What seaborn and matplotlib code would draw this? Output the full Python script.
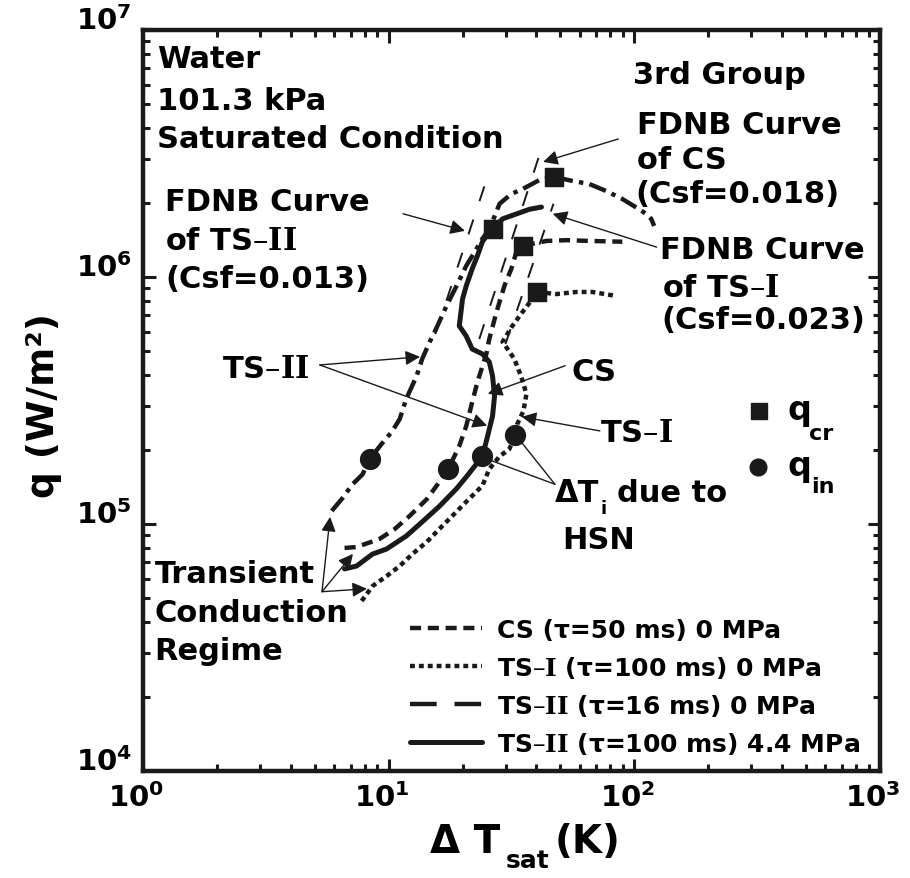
# -*- coding: utf-8 -*-
# Boiling curves, water at 101.3 kPa, 3rd group (log-log)

# %% Import Libraries

import math
import matplotlib
matplotlib.use("Agg")
import matplotlib.pyplot as plt
import matplotlib.transforms as mtransforms
from matplotlib.lines import Line2D
from matplotlib.ticker import LogLocator, FuncFormatter, NullFormatter
import seaborn as sns

# %% Data (dT_sat in K, q in W/m2)

cs_dt = [6.62, 7.41, 9.19, 10.6, 12.2, 14.3, 16.1, 17.5, 19.4, 20.7, 21.9, 23.0,
         25.0, 25.7, 27.5, 29.6, 31.6, 33.1, 35.4, 43.9, 52.9, 65.6, 89.4]
cs_q = [8.0e4, 8.07e4, 8.7e4, 9.55e4, 1.08e5, 1.26e5, 1.48e5, 1.67e5, 2.07e5,
        2.49e5, 3.12e5, 3.76e5, 4.88e5, 5.61e5, 7.22e5, 9.2e5, 1.08e6, 1.26e6,
        1.34e6, 1.40e6, 1.41e6, 1.40e6, 1.39e6]

ts1_dt = [7.77, 8.61, 9.81, 11.1, 12.5, 14.3, 16.1, 18.2, 20.7, 24.1, 25.7, 28.3,
          31.0, 32.8, 33.4, 35.4, 36.4, 34.7, 32.5, 30.5, 29.1, 31.9, 35.1, 38.5,
          40.3, 48.2, 58.1, 67.5, 84.5]
ts1_q = [4.88e4, 5.61e4, 6.15e4, 6.76e4, 7.56e4, 8.46e4, 9.55e4, 1.08e5, 1.23e5,
         1.43e5, 1.67e5, 1.88e5, 2.01e5, 2.29e5, 2.54e5, 2.87e5, 3.36e5, 3.94e5,
         4.66e5, 5.11e5, 5.46e5, 6.34e5, 7.22e5, 8.15e5, 8.7e5, 8.53e5, 8.7e5,
         8.7e5, 8.38e5]

ts2a_dt = [5.87, 6.44, 7.14, 7.84, 8.37, 9.37, 10.3, 11.1, 11.8, 13.0, 13.7, 14.7,
           15.4, 17.2, 18.9, 20.7, 22.8, 24.1, 25.7, 28.3, 31.6, 35.1, 41.1, 47.3,
           56.0, 65.6, 76.9, 89.4, 104.8, 111.9, 117.2, 120.5]
ts2a_q = [1.13e5, 1.26e5, 1.45e5, 1.59e5, 1.83e5, 2.11e5, 2.36e5, 2.66e5, 3.21e5,
          3.97e5, 4.66e5, 5.46e5, 5.99e5, 7.63e5, 9.2e5, 1.11e6, 1.30e6, 1.43e6,
          1.56e6, 1.98e6, 2.17e6, 2.27e6, 2.47e6, 2.54e6, 2.45e6, 2.38e6, 2.23e6,
          2.07e6, 1.88e6, 1.80e6, 1.72e6, 1.61e6]

ts2b_dt = [6.62, 7.41, 8.61, 9.81, 11.8, 13.7, 16.1, 18.9, 20.7, 24.1, 25.3, 26.5,
           27.0, 26.5, 25.7, 24.1, 21.9, 20.7, 19.4, 20.0, 20.7, 21.9, 23.0, 24.1,
           25.3, 26.5, 29.1, 33.1, 37.4, 41.9]
ts2b_q = [6.58e4, 6.76e4, 7.56e4, 7.92e4, 8.94e4, 1.02e5, 1.18e5, 1.39e5, 1.55e5,
          1.88e5, 2.27e5, 2.74e5, 3.30e5, 3.97e5, 4.53e5, 4.88e5, 5.11e5, 5.77e5,
          6.34e5, 8.15e5, 9.2e5, 1.08e6, 1.22e6, 1.39e6, 1.49e6, 1.56e6, 1.72e6,
          1.80e6, 1.88e6, 1.92e6]

# critical (square) and incipience (circle) points
qcr_dt = [47.3, 26.5, 35.4, 40.3]
qcr_q = [2.54e6, 1.56e6, 1.34e6, 8.7e5]
qin_dt = [8.37, 17.5, 24.1, 32.8]
qin_q = [1.83e5, 1.67e5, 1.88e5, 2.29e5]

# FDNB curves (end points)
fdnb_ts2_dt = [15.5, 25.5]
fdnb_ts2_q = [5.88e5, 2.61e6]
fdnb_cs_dt = [23.4, 41.5]
fdnb_cs_q = [5.61e5, 3.21e6]
fdnb_ts1_dt = [29.9, 46.9]
fdnb_ts1_q = [5.36e5, 1.98e6]

legend_labels = ["CS (τ=50 ms) 0 MPa", r"TS–$\mathbf{I}$ (τ=100 ms) 0 MPa",
                 r"TS–$\mathbf{II}$ (τ=16 ms) 0 MPa", r"TS–$\mathbf{II}$ (τ=100 ms) 4.4 MPa"]

# %% Style

sns.set_theme(style="ticks")
plt.rcParams["font.family"] = ["DejaVu Sans"]
plt.rcParams["font.weight"] = "bold"
plt.rcParams["text.color"] = "black"
plt.rcParams["axes.labelcolor"] = "black"
plt.rcParams["axes.linewidth"] = 3

fig = plt.figure(figsize=(9.1, 8.79), dpi=100)
ax = fig.add_axes([0.157, 0.1217, 0.81, 0.843])
ax.set_xscale("log")
ax.set_yscale("log")

LW = 3.2
ls_cs = (0, (2.5, 1.5))
ls_ts1 = (0, (1.1, 0.9))
ls_ts2a = (0, (4, 1.4, 1, 1.4))
ls_ts2a_leg = (0, (6, 4))

# %% Curves

sns.lineplot(x=cs_dt, y=cs_q, sort=False, estimator=None, color="k", lw=LW,
             linestyle=ls_cs, ax=ax)
sns.lineplot(x=ts1_dt, y=ts1_q, sort=False, estimator=None, color="k", lw=LW,
             linestyle=ls_ts1, ax=ax)
sns.lineplot(x=ts2a_dt, y=ts2a_q, sort=False, estimator=None, color="k", lw=LW,
             linestyle=ls_ts2a, ax=ax)
sns.lineplot(x=ts2b_dt, y=ts2b_q, sort=False, estimator=None, color="k", lw=LW + 0.4,
             ax=ax)

for fx, fy in [(fdnb_ts2_dt, fdnb_ts2_q), (fdnb_cs_dt, fdnb_cs_q), (fdnb_ts1_dt, fdnb_ts1_q)]:
    sns.lineplot(x=fx, y=fy, sort=False, estimator=None, color="k", lw=1.4,
                 linestyle=(0, (8, 10)), ax=ax)

sns.scatterplot(x=qcr_dt, y=qcr_q, marker="s", s=170, color="k", edgecolor="k",
                zorder=5, ax=ax)
sns.scatterplot(x=qin_dt, y=qin_q, marker="o", s=200, color="k", edgecolor="k",
                zorder=5, ax=ax)

# %% Axes

ax.set_xlim(1, 1000)
ax.set_ylim(1e4, 1e7)
ax.xaxis.set_major_locator(LogLocator(base=10, numticks=10))
ax.yaxis.set_major_locator(LogLocator(base=10, numticks=10))
ax.xaxis.set_minor_locator(LogLocator(base=10, subs=range(2, 10), numticks=20))
ax.yaxis.set_minor_locator(LogLocator(base=10, subs=range(2, 10), numticks=20))
fmt = FuncFormatter(lambda v, p: r"$\mathbf{10^{%d}}$" % round(math.log10(v)))
ax.xaxis.set_major_formatter(fmt)
ax.yaxis.set_major_formatter(fmt)
ax.xaxis.set_minor_formatter(NullFormatter())
ax.yaxis.set_minor_formatter(NullFormatter())
ax.tick_params(which="both", direction="in", top=True, right=True, width=2.2,
               color="k", labelsize=21, labelcolor="black")
ax.tick_params(which="major", length=9, pad=8)
ax.tick_params(which="minor", length=5)
for sp in ax.spines.values():
    sp.set_linewidth(3.2)
    sp.set_color("k")

for lab in ax.get_yticklabels():
    lab.set_transform(lab.get_transform() + mtransforms.ScaledTranslation(0, 9 / 72, fig.dpi_scale_trans))
for lab in ax.get_xticklabels():
    lab.set_transform(lab.get_transform() + mtransforms.ScaledTranslation(-5 / 72, 0, fig.dpi_scale_trans))

fig.text(0.048, 0.539, "q (W/m²)", rotation=90, ha="center", va="center", fontsize=27)
fig.text(0.472, 0.03, "Δ T", ha="left", va="baseline", fontsize=28)
fig.text(0.556, 0.012, "sat", ha="left", va="baseline", fontsize=18)
fig.text(0.610, 0.03, "(K)", ha="left", va="baseline", fontsize=28)

# %% Text and arrows

TS = 22
def txt(x, y, s, size=TS, **kw):
    t = ax.text(x, y, s, transform=ax.transAxes, ha="left", va="baseline", fontsize=size, **kw)
    t.set_math_fontfamily("dejavuserif")

txt(0.019, 0.950, "Water")
txt(0.019, 0.894, "101.3 kPa")
txt(0.019, 0.842, "Saturated Condition")
txt(0.030, 0.757, "FDNB Curve")
txt(0.030, 0.704, r"of TS–$\mathbf{II}$")
txt(0.030, 0.653, "(Csf=0.013)")
txt(0.665, 0.928, "3rd Group")
txt(0.670, 0.861, "FDNB Curve")
txt(0.670, 0.814, "of CS")
txt(0.668, 0.768, "(Csf=0.018)")
txt(0.701, 0.692, "FDNB Curve")
txt(0.704, 0.641, r"of TS–$\mathbf{I}$")
txt(0.704, 0.598, "(Csf=0.023)")
txt(0.582, 0.528, "CS")
txt(0.620, 0.445, r"TS–$\mathbf{I}$")
txt(0.107, 0.532, r"TS–$\mathbf{II}$")
txt(0.559, 0.364, "ΔT")
txt(0.621, 0.348, "i", size=13)
txt(0.643, 0.364, "due to")
txt(0.569, 0.301, "HSN")
txt(0.016, 0.255, "Transient")
txt(0.016, 0.202, "Conduction")
txt(0.016, 0.151, "Regime")

ax.plot([0.836], [0.486], marker="s", ms=12, color="k", transform=ax.transAxes)
ax.plot([0.834], [0.410], marker="o", ms=12, color="k", transform=ax.transAxes)
txt(0.875, 0.475, "q", size=24)
txt(0.904, 0.448, "cr", size=16)
txt(0.875, 0.3995, "q", size=24)
txt(0.906, 0.3765, "in", size=16)

arrows = [
    ((0.353, 0.752), (0.437, 0.729)),
    ((0.645, 0.853), (0.543, 0.822)),
    ((0.697, 0.707), (0.556, 0.752)),
    ((0.240, 0.548), (0.376, 0.559)),
    ((0.240, 0.548), (0.467, 0.466)),
    ((0.573, 0.547), (0.468, 0.509)),
    ((0.620, 0.459), (0.514, 0.478)),
    ((0.243, 0.242), (0.254, 0.343)),
    ((0.243, 0.242), (0.285, 0.293)),
    ((0.243, 0.242), (0.304, 0.246)),
]
for start, end in arrows:
    ax.annotate("", xy=end, xytext=start, xycoords="axes fraction",
                arrowprops=dict(arrowstyle="-|>", color="k", lw=1.0,
                                mutation_scale=22, shrinkA=0, shrinkB=0))
for end in [(0.507, 0.452), (0.467, 0.421)]:
    ax.annotate("", xy=end, xytext=(0.559, 0.387), xycoords="axes fraction",
                arrowprops=dict(arrowstyle="-", color="k", lw=1.0, shrinkA=0, shrinkB=0))

# %% Legend

handles = [Line2D([], [], color="k", lw=LW, linestyle=ls_cs),
           Line2D([], [], color="k", lw=LW, linestyle=ls_ts1),
           Line2D([], [], color="k", lw=LW, linestyle=ls_ts2a_leg),
           Line2D([], [], color="k", lw=LW + 0.4)]
leg = ax.legend(handles, legend_labels, loc="lower left", bbox_to_anchor=(0.362, 0.02),
                frameon=False, fontsize=18, handlelength=2.9, handletextpad=0.6,
                labelspacing=0.48, borderpad=0, borderaxespad=0)
for t in leg.get_texts():
    t.set_math_fontfamily("dejavuserif")

plt.savefig("out.png", dpi=100)
